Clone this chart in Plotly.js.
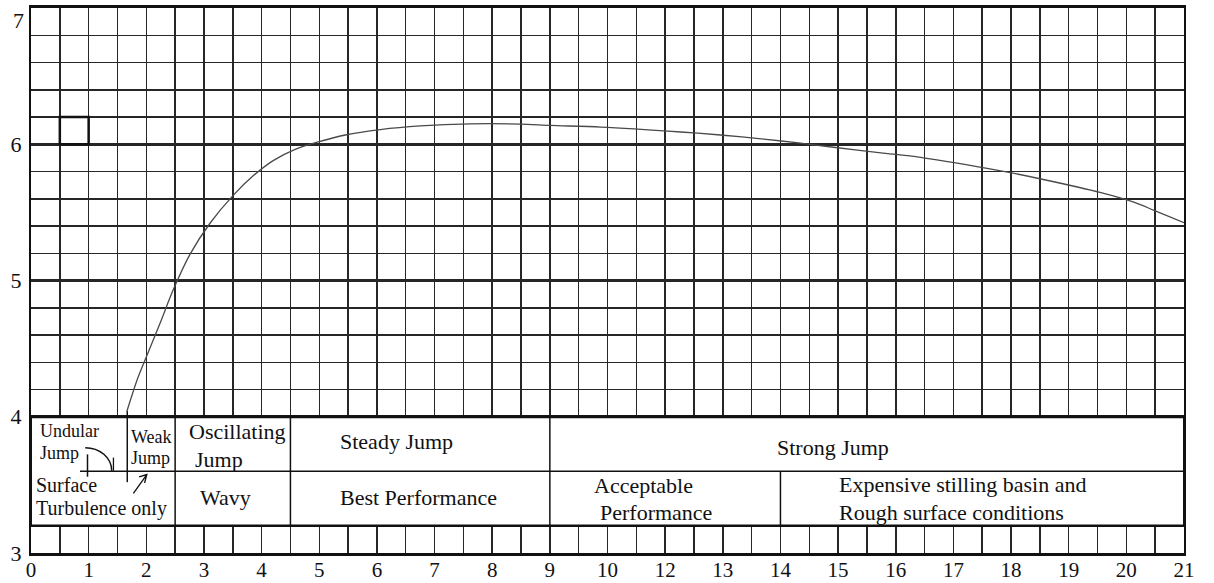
<!DOCTYPE html>
<html>
<head>
<meta charset="utf-8">
<script src="https://cdn.plot.ly/plotly-3.0.1.min.js"></script>
<style>
  html, body { margin: 0; padding: 0; background: #ffffff; }
  #chart { width: 1214px; height: 583px; }
</style>
</head>
<body>
<div id="chart"></div>
<script>
// Jump performance curve, x is the position along the printed scale
const curveX = [1.661, 1.840, 2.014, 2.240, 2.465, 2.760, 3.108, 3.507, 3.854, 4.201, 4.583,
                4.965, 5.451, 6.059, 6.753, 7.622, 8.490, 9.010, 9.880, 11.270, 11.960,
                12.710, 13.350, 13.920, 14.740, 15.430, 16.820, 17.520, 18.560, 19.130, 19.480, 20.0];
const curveY = [4.037, 4.270, 4.453, 4.688, 4.930, 5.194, 5.422, 5.625, 5.768, 5.880, 5.962,
                6.015, 6.068, 6.108, 6.135, 6.150, 6.148, 6.138, 6.126, 6.090, 6.068,
                6.038, 6.008, 5.978, 5.937, 5.904, 5.805, 5.745, 5.645, 5.575, 5.515, 5.424];

// Printed scale labels (the scale skips 11)
const xTickVals = [0, 1, 2, 3, 4, 5, 6, 7, 8, 9, 10, 11, 12, 13, 14, 15, 16, 17, 18, 19, 20];
const xTickText = ["0", "1", "2", "3", "4", "5", "6", "7", "8", "9", "10",
                   "12", "13", "14", "15", "16", "17", "18", "19", "20", "21"];
const yTickVals = [3, 4, 5, 6];
const yTopLabel = "7";

// Classification table rows (upper row = jump type, lower row = performance)
const tableTop = 4, tableMid = 3.6, tableBottom = 3.2;
const upperDividers = [2.5, 4.5, 9];
const lowerDividers = [2.5, 4.5, 9, 13];

const SERIF = "Liberation Serif, Times New Roman, serif";
const INK = "#111111";
const GRID = "#262626";

const shapes = [];
// white table area hiding the grid
shapes.push({type: "rect", xref: "x", yref: "y", x0: 0, x1: 20, y0: tableBottom, y1: tableTop,
             fillcolor: "#ffffff", line: {width: 0}, layer: "between"});
// table borders
shapes.push({type: "line", xref: "x", yref: "y", x0: 0, x1: 20, y0: tableTop, y1: tableTop,
             line: {color: INK, width: 3}, layer: "above"});
shapes.push({type: "line", xref: "x", yref: "y", x0: 0, x1: 20, y0: tableBottom, y1: tableBottom,
             line: {color: INK, width: 2.5}, layer: "above"});
shapes.push({type: "line", xref: "x", yref: "y", x0: 0.85, x1: 20, y0: tableMid, y1: tableMid,
             line: {color: INK, width: 1.5}, layer: "above"});
shapes.push({type: "line", xref: "x", yref: "y", x0: 0, x1: 0, y0: tableBottom, y1: tableTop,
             line: {color: INK, width: 2}, layer: "above"});
shapes.push({type: "line", xref: "x", yref: "y", x0: 20, x1: 20, y0: tableBottom, y1: tableTop,
             line: {color: INK, width: 2}, layer: "above"});
upperDividers.forEach(function (d) {
  shapes.push({type: "line", xref: "x", yref: "y", x0: d, x1: d, y0: tableMid, y1: tableTop,
               line: {color: INK, width: 1.5}, layer: "above"});
});
lowerDividers.forEach(function (d) {
  shapes.push({type: "line", xref: "x", yref: "y", x0: d, x1: d, y0: tableBottom, y1: tableMid,
               line: {color: INK, width: 1.5}, layer: "above"});
});
// weak jump separator dropping from the start of the curve
shapes.push({type: "line", xref: "x", yref: "y", x0: 1.67, x1: 1.67, y0: 3.52, y1: 4.04,
             line: {color: INK, width: 1.5}, layer: "above"});
// small tick on the undular cell
shapes.push({type: "line", xref: "x", yref: "y", x0: 0.98, x1: 0.98, y0: 3.56, y1: 3.724,
             line: {color: INK, width: 1.5}, layer: "above"});
// curved pointer from "Undular Jump"
shapes.push({type: "path", xref: "x", yref: "y",
             path: "M 0.94,3.773 C 1.19,3.773 1.40,3.70 1.40,3.604",
             line: {color: INK, width: 1.5}, layer: "above"});
shapes.push({type: "line", xref: "x", yref: "y", x0: 1.43, x1: 1.43, y0: 3.604, y1: 3.70,
             line: {color: INK, width: 1.3}, layer: "above"});
// arrow pointing to "Weak Jump"
shapes.push({type: "path", xref: "x", yref: "y",
             path: "M 1.776,3.438 L 2.009,3.576 M 1.875,3.558 L 2.009,3.576 L 1.97,3.514",
             line: {color: INK, width: 1.3}, layer: "above"});
// small square marker near the top left
shapes.push({type: "rect", xref: "x", yref: "y", x0: 0.5, x1: 1, y0: 6, y1: 6.2,
             line: {color: INK, width: 2.5}, fillcolor: "rgba(0,0,0,0)", layer: "above"});

function label(text, x, y, size, anchor) {
  return {text: text, x: x, y: y, xref: "x", yref: "y", showarrow: false,
          xanchor: anchor || "left", yanchor: "middle",
          font: {family: SERIF, size: size, color: INK}};
}

const annotations = [
  label("Undular", 0.12, 3.895, 18),
  label("Jump", 0.12, 3.732, 18),
  label("Weak", 1.70, 3.853, 18),
  label("Jump", 1.70, 3.695, 18),
  label("Surface", 0.06, 3.499, 20),
  label("Turbulence only", 0.06, 3.328, 20),
  label("Oscillating", 2.70, 3.89, 22),
  label("Jump", 2.81, 3.687, 22),
  label("Wavy", 2.89, 3.41, 22),
  label("Steady Jump", 5.32, 3.815, 22),
  label("Best Performance", 5.32, 3.41, 22),
  label("Strong Jump", 12.91, 3.778, 22),
  label("Acceptable", 9.73, 3.499, 22),
  label("Performance", 9.84, 3.30, 22),
  label("Expensive stilling basin and", 13.98, 3.50, 22),
  label("Rough surface conditions", 13.98, 3.30, 22),
  // top value of the vertical scale, kept inside the page
  {text: yTopLabel, xref: "paper", yref: "y", x: 0, y: 7, xanchor: "right", yanchor: "top",
   xshift: -5, yshift: 2, showarrow: false,
   font: {family: SERIF, size: 22, color: INK}}
];

const trace = {
  x: curveX, y: curveY, type: "scatter", mode: "lines",
  line: {color: "#4a4a4a", width: 1.3, shape: "spline", smoothing: 0.8},
  hoverinfo: "skip", showlegend: false
};

const layout = {
  width: 1214, height: 583,
  margin: {l: 31, r: 30, t: 8, b: 30, pad: 0},
  paper_bgcolor: "#ffffff", plot_bgcolor: "#ffffff",
  showlegend: false,
  font: {family: SERIF, color: INK},
  xaxis: {
    range: [0, 20], fixedrange: true, zeroline: false,
    tickmode: "array", tickvals: xTickVals, ticktext: xTickText,
    ticks: "", ticklabelstandoff: -4,
    tickfont: {family: SERIF, size: 21, color: INK},
    showgrid: true, gridcolor: GRID, gridwidth: 1.5,
    minor: {dtick: 0.5, showgrid: true, gridcolor: GRID, gridwidth: 1.5},
    showline: true, mirror: true, linecolor: INK, linewidth: 3
  },
  yaxis: {
    range: [3, 7], fixedrange: true, zeroline: false,
    tickmode: "array", tickvals: yTickVals,
    ticks: "outside", ticklen: 3, tickcolor: "rgba(0,0,0,0)",
    tickfont: {family: SERIF, size: 22, color: INK},
    showgrid: true, gridcolor: GRID, gridwidth: 3,
    minor: {dtick: 0.2, showgrid: true, gridcolor: GRID, gridwidth: 1.5},
    showline: true, mirror: true, linecolor: INK, linewidth: 2
  },
  shapes: shapes,
  annotations: annotations
};

Plotly.newPlot("chart", [trace], layout, {staticPlot: true, displayModeBar: false});
</script>
</body>
</html>
